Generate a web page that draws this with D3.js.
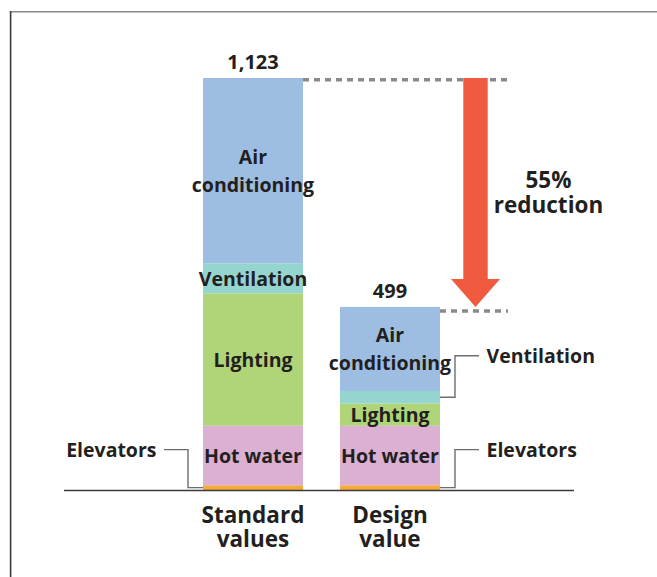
<!DOCTYPE html>
<html>
<head>
<meta charset="utf-8">
<script src="https://cdn.jsdelivr.net/npm/d3@7"></script>
<style>
  html, body { margin: 0; padding: 0; background: #fff; }
  svg { display: block; }
  text { font-family: "Open Sans", "Noto Sans", sans-serif; fill: #231f20; }
</style>
</head>
<body>
<svg id="chart" width="657" height="577"></svg>
<script>
// Energy use by end use (stacked bottom to top)
const categories = ["Standard values", "Design value"];
const categoryLines = [["Standard", "values"], ["Design", "value"]];
const endUses = ["Elevators", "Hot water", "Lighting", "Ventilation", "Air conditioning"];
const standardValues = [13, 162, 361, 82, 505];
const designValues = [13, 162, 61, 34, 229];
const reductionLines = ["55%", "reduction"];

const colors = {
  "Elevators": "#f6aa3c",
  "Hot water": "#dcb0d2",
  "Lighting": "#b0d579",
  "Ventilation": "#95d5d0",
  "Air conditioning": "#9dbde2"
};
const arrowColor = "#f05a3e";

const seriesByCategory = [standardValues, designValues];
const rows = categories.map((c, i) => {
  const r = { category: c };
  endUses.forEach((u, j) => { r[u] = seriesByCategory[i][j]; });
  return r;
});
const totals = seriesByCategory.map(v => d3.sum(v));

const svg = d3.select("#chart");

// frame
svg.append("line").attr("x1", 10).attr("x2", 657).attr("y1", 11.8).attr("y2", 11.8)
  .attr("stroke", "#8a8a8a").attr("stroke-width", 1.6);
svg.append("line").attr("x1", 10.6).attr("x2", 10.6).attr("y1", 11).attr("y2", 577)
  .attr("stroke", "#3a3a3a").attr("stroke-width", 1.6);

const x = d3.scaleBand().domain(categories).range([203, 440]).paddingInner(0.27).paddingOuter(0);
const y = d3.scaleLinear().domain([0, d3.max(totals)]).range([490, 78]);

const layers = d3.stack().keys(endUses)(rows);

const g = svg.append("g");

// stacked segments
layers.forEach(layer => {
  g.selectAll(null).data(layer).enter().append("rect")
    .attr("x", d => x(d.data.category))
    .attr("width", x.bandwidth())
    .attr("y", d => y(d[1]))
    .attr("height", d => y(d[0]) - y(d[1]))
    .attr("fill", colors[layer.key]);
});

// baseline
svg.append("line").attr("x1", 64).attr("x2", 574).attr("y1", y(0) + 0.5).attr("y2", y(0) + 0.5)
  .attr("stroke", "#3a3a3a").attr("stroke-width", 1.6);

// segment labels: inside when tall enough, otherwise via a leader line
const fontSize = 19.5;
const capHalf = 7.2;
const lineGap = 27.5;
const leaderLift = { "Elevators": 38, "Ventilation": 41.5 };

layers.forEach(layer => {
  layer.forEach((d, i) => {
    const cat = d.data.category;
    const top = y(d[1]), bot = y(d[0]);
    const h = bot - top;
    const cx = x(cat) + x.bandwidth() / 2;
    const mid = (top + bot) / 2;
    if (h >= 20) {
      const words = layer.key === "Air conditioning" ? ["Air", "conditioning"] : [layer.key];
      const first = mid + capHalf - (words.length - 1) * lineGap / 2;
      const t = g.append("text").attr("text-anchor", "middle")
        .attr("font-size", fontSize).attr("font-weight", 700);
      words.forEach((w, k) => {
        t.append("tspan").attr("x", cx).attr("y", first + k * lineGap).text(w);
      });
    } else {
      const left = i === 0;
      const dir = left ? -1 : 1;
      const edge = left ? x(cat) : x(cat) + x.bandwidth();
      const ly = mid - leaderLift[layer.key];
      const pts = [[edge, mid], [edge + dir * 15, mid], [edge + dir * 15, ly], [edge + dir * 39, ly]];
      g.append("path").attr("d", d3.line()(pts))
        .attr("fill", "none").attr("stroke", "#6d6e71").attr("stroke-width", 1.4);
      g.append("text").attr("x", edge + dir * 46.5).attr("y", ly + capHalf)
        .attr("text-anchor", left ? "end" : "start")
        .attr("font-size", fontSize).attr("font-weight", 700)
        .text(layer.key);
    }
  });
});

// totals above bars
categories.forEach((c, i) => {
  g.append("text").attr("x", x(c) + x.bandwidth() / 2).attr("y", y(totals[i]) - 9)
    .attr("text-anchor", "middle").attr("font-size", 20).attr("font-weight", 700)
    .text(d3.format(",")(totals[i]));
});

// category labels
categories.forEach((c, i) => {
  const t = g.append("text").attr("text-anchor", "middle")
    .attr("font-size", 22.5).attr("font-weight", 700);
  categoryLines[i].forEach((w, k) => {
    t.append("tspan").attr("x", x(c) + x.bandwidth() / 2).attr("y", 522.5 + k * 24.4).text(w);
  });
});

// reduction arrow with reference dashes
const dashEnd = 508;
const arrowX = 475.5;
const yTop = y(totals[0]), yBot = y(totals[1]);
svg.append("line").attr("x1", x(categories[0]) + x.bandwidth()).attr("x2", dashEnd)
  .attr("y1", yTop + 1.8).attr("y2", yTop + 1.8)
  .attr("stroke", "#8a8a8c").attr("stroke-width", 3.6).attr("stroke-dasharray", "6 5");
svg.append("line").attr("x1", x(categories[1]) + x.bandwidth()).attr("x2", dashEnd)
  .attr("y1", yBot + 4).attr("y2", yBot + 4)
  .attr("stroke", "#8a8a8c").attr("stroke-width", 3.6).attr("stroke-dasharray", "6 5");

const shaftHalf = 12.2, headHalf = 24.5, headLen = 28;
const arrowPts = [
  [arrowX - shaftHalf, yTop], [arrowX + shaftHalf, yTop],
  [arrowX + shaftHalf, yBot - headLen], [arrowX + headHalf, yBot - headLen],
  [arrowX, yBot], [arrowX - headHalf, yBot - headLen],
  [arrowX - shaftHalf, yBot - headLen]
];
svg.append("path").attr("d", d3.line()(arrowPts) + "Z").attr("fill", arrowColor);

const rt = svg.append("text").attr("text-anchor", "middle")
  .attr("font-size", 22.5).attr("font-weight", 700);
reductionLines.forEach((w, k) => {
  rt.append("tspan").attr("x", 548.5).attr("y", 187.5 + k * 25).text(w);
});
</script>
</body>
</html>
